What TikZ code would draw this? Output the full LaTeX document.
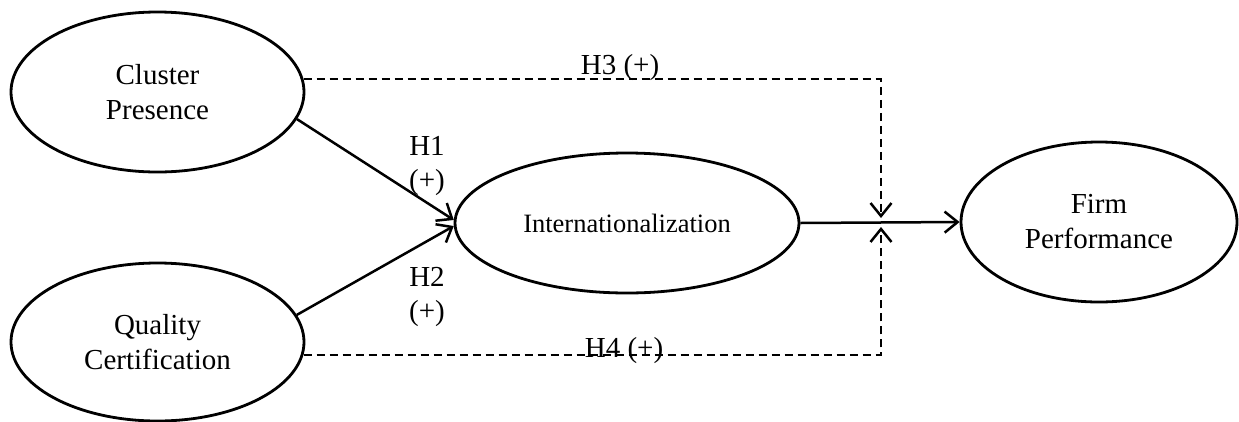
\documentclass[tikz,border=0pt]{standalone}
\usepackage{fontspec}
\setmainfont{Liberation Serif}
\usetikzlibrary{arrows.meta,shapes.geometric}
\begin{document}
\begin{tikzpicture}[x=1pt,y=-1pt,
  latent/.style={draw,ellipse,line width=2.8pt,inner sep=0pt,align=center,font=\fontsize{29}{35}\selectfont},
  lbl/.style={inner sep=0pt,align=center,font=\fontsize{29}{34}\selectfont},
  conn/.style={line width=2.5pt,-{Straight Barb[length=13pt,width=21pt]}},
  dconn/.style={conn,dash pattern=on 8pt off 5pt}]
\useasboundingbox (0,0) rectangle (1239,421);
\node[latent,minimum width=293pt,minimum height=160pt] (cp) at (157.5,92) {Cluster\\Presence};
\node[latent,minimum width=293pt,minimum height=158pt] (qc) at (157.5,342) {Quality\\Certification};
\node[latent,minimum width=344pt,minimum height=140pt,font=\fontsize{26.5}{32}\selectfont] (ic) at (627,223) {Internationalization};
\node[latent,minimum width=276pt,minimum height=160pt] (fp) at (1099,222) {Firm\\Performance};
\coordinate (jt) at (881,218);
\coordinate (jb) at (881,227);
\draw[conn] (cp.-11.5) -- (ic.179);
\draw[conn] (qc.11) -- (ic.181);
\draw[conn] (ic.east) -- (fp.west);
\draw[dconn] (cp.5) -| (jt);
\draw[dconn] (qc.-5) -| (jb);
\node[lbl] (l1) at (427,166) {H1\\(+)};
\node[lbl] (l2) at (427,297) {H2\\(+)};
\node[lbl,anchor=base] (l3) at (620,74) {H3 (+)};
\node[lbl,anchor=base] (l4) at (624,357) {H4 (+)};
\end{tikzpicture}
\end{document}
